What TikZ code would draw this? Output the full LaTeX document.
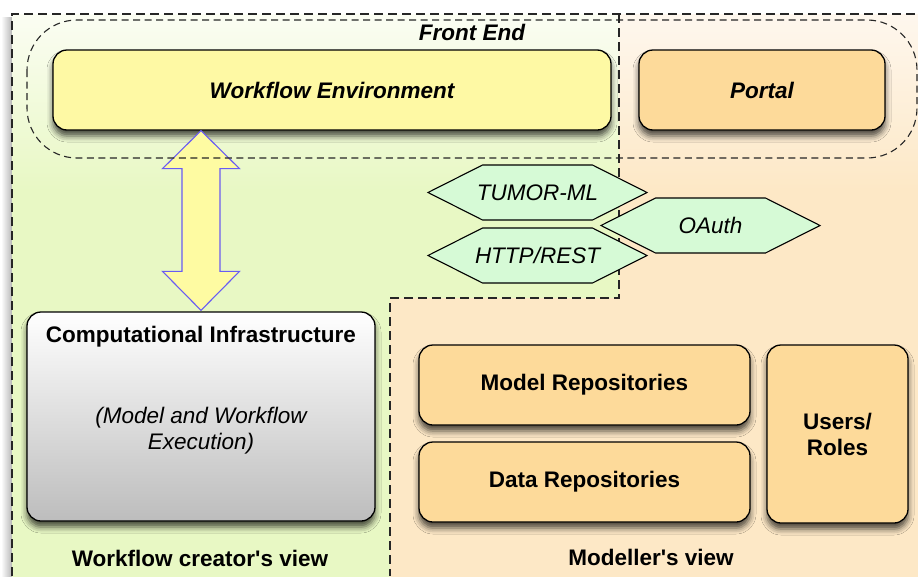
\documentclass[tikz,border=0pt]{standalone}
\usepackage{fontspec}
\setmainfont{Liberation Sans}[Ligatures=TeXOff]
\usetikzlibrary{calc,shadows.blur}
\definecolor{gbg}{HTML}{E8F8C4}
\definecolor{gtop}{HTML}{FBFDF3}
\definecolor{obg}{HTML}{FDE8C6}
\definecolor{otop}{HTML}{FEF7EE}
\definecolor{wefill}{HTML}{FEF9A4}
\definecolor{orfill}{HTML}{FDDA9A}
\definecolor{hexfill}{HTML}{D6FAD6}
\definecolor{arrfill}{HTML}{FEFBA2}
\definecolor{arrline}{HTML}{6A5CF2}
\newcommand{\hexbox}[4]{% name, x, y, text
  \coordinate (#1-c) at (#2,#3);
  \draw[hexa] ($(#1-c)+(-109.5,0)$) -- ++(54.5,-27.5) -- ++(110,0) -- ++(54.5,27.5)
     -- ++(-54.5,27.5) -- ++(-110,0) -- cycle;
  \node[lbl] (#1) at (#1-c) {\itshape #4};}
\begin{document}
\begin{tikzpicture}[x=1pt,y=-1pt,
  lbl/.style={font=\fontsize{22.5}{26}\selectfont, inner sep=0pt, align=center},
  box/.style={draw=black, line width=1.3pt, rounded corners=14pt, lbl,
    blur shadow={shadow xshift=0pt, shadow yshift=-6pt, shadow blur radius=6pt, shadow opacity=70}},
  dashline/.style={draw=black!85, line width=1.4pt, dash pattern=on 9pt off 5pt},
  feline/.style={draw=black!85, line width=1.1pt, dash pattern=on 7pt off 4.5pt, rounded corners=50pt},
  hexa/.style={draw=black, line width=1.1pt, fill=hexfill, line join=miter},
  bigarrow/.style={draw=arrline, fill=arrfill, line width=1.1pt, line join=miter}]
\useasboundingbox (0,0) rectangle (918,576);
% left shadow of the outer frame
\shade[left color=white, right color=black!28] (1,17) rectangle (12,576);
% regions
\begin{scope}
  \clip (12,14) -- (619,14) -- (619,298) -- (390,298) -- (390,580) -- (12,580) -- cycle;
  \fill[gbg] (0,0) rectangle (930,580);
  \shade[top color=gtop, bottom color=gbg] (0,14) rectangle (930,190);
\end{scope}
\begin{scope}
  \clip (619,14) -- (930,14) -- (930,580) -- (390,580) -- (390,298) -- (619,298) -- cycle;
  \fill[obg] (0,0) rectangle (930,580);
  \shade[top color=otop, bottom color=obg] (0,14) rectangle (930,190);
\end{scope}
\draw[dashline] (12,576) -- (12,14) -- (918,14);
\draw[dashline] (619,14) -- (619,298) -- (390,298) -- (390,576);
% boxes
\node[box, fill=wefill, minimum width=558pt, minimum height=80pt] (we) at (332,90) {\bfseries\itshape Workflow Environment};
\node[box, fill=orfill, minimum width=246pt, minimum height=80pt] (portal) at (762,90) {\bfseries\itshape Portal};
\node[box, top color=white, bottom color=black!26, minimum width=348pt, minimum height=209pt] (ci) at (201,416.5) {};
\node[box, fill=orfill, minimum width=331pt, minimum height=80pt] (mr) at (584.5,385) {\bfseries Model Repositories};
\node[box, fill=orfill, minimum width=331pt, minimum height=80pt] (dr) at (584.5,482) {\bfseries Data Repositories};
\node[box, fill=orfill, minimum width=141pt, minimum height=178pt] (ur) at (837.5,434) {\bfseries Users/\\\bfseries Roles};
\node[lbl, anchor=base] (cititle) at (201,342) {\bfseries Computational Infrastructure};
\node[lbl] (cisub) at (201,431) {\itshape (Model and Workflow\\\itshape Execution)};
% double arrow
\coordinate (atop) at (ci.north |- we.south);
\coordinate (abot) at ($(ci.north)+(0,-1)$);
\draw[bigarrow] (atop) -- ++(38.5,38) -- ++(-19.5,0) -- ($(abot)+(19,-39)$) -- ++(19.5,0)
  -- (abot) -- ++(-38.5,-39) -- ++(19.5,0) -- ($(atop)+(-19,38)$) -- ++(-19.5,0) -- cycle;
% front end group
\draw[feline] (27,20) rectangle (917,158);
\node[lbl] (fe) at (472,32) {\bfseries\itshape Front End};
% protocols
\hexbox{tumor}{537.5}{192.5}{TUMOR-ML}
\hexbox{http}{537.5}{255.5}{HTTP/REST}
\hexbox{oauth}{710.5}{225.5}{OAuth}
% view labels
\node[lbl, anchor=base] (wcv) at (200,566) {\bfseries Workflow creator's view};
\node[lbl, anchor=base] (mv) at (651,565) {\bfseries Modeller's view};
\end{tikzpicture}
\end{document}
